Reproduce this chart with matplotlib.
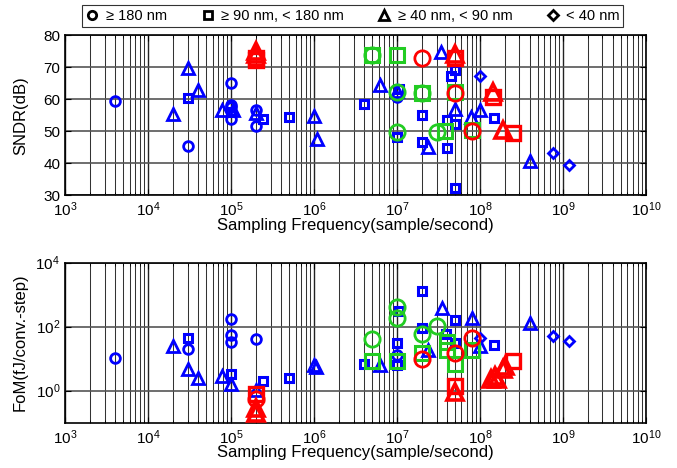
import matplotlib
matplotlib.use("Agg")
import matplotlib.pyplot as plt
from matplotlib.lines import Line2D
from matplotlib.ticker import FixedLocator, NullFormatter, LogFormatterMathtext

plt.rcParams['font.family'] = ['Liberation Sans', 'DejaVu Sans']
plt.rcParams['mathtext.fontset'] = 'custom'
plt.rcParams['mathtext.rm'] = 'Liberation Sans'
plt.rcParams['mathtext.it'] = 'Liberation Sans'

# ---------------- data: SNDR panel ----------------
sndr_blue_circle_f = [4e3, 3e4, 1e5, 1e5, 1e5, 1e5, 2e5, 2e5, 1e7]
sndr_blue_circle_v = [59.3, 45.2, 65.1, 58.3, 57.5, 53.8, 56.6, 51.7, 60.7]
sndr_blue_square_f = [3e4, 1e5, 2.45e5, 5e5, 4e6, 1.05e7, 1e7, 2e7, 2e7, 4e7, 4e7, 4.5e7, 5e7, 5e7, 5e7, 1.47e8]
sndr_blue_square_v = [60.3, 56.0, 53.8, 54.4, 58.5, 63.3, 48.2, 55.0, 46.5, 53.6, 44.6, 67.2, 69.1, 52.1, 32.1, 54.2]
sndr_blue_tri_f = [2e4, 3e4, 4e4, 7.7e4, 1.05e5, 2e5, 1e6, 1.1e6, 6.3e6, 1e7, 2.4e7, 3.4e7, 5e7, 7.9e7, 1e8, 4e8]
sndr_blue_tri_v = [55.2, 69.8, 62.8, 56.6, 56.5, 55.6, 54.7, 47.5, 64.4, 62.5, 44.9, 74.8, 57.0, 54.5, 56.6, 40.6]
sndr_blue_dia_f = [1e8, 7.5e8, 1.2e9]
sndr_blue_dia_v = [67.2, 43.3, 39.4]
sndr_green_circle_f = [5e6, 1e7, 1e7, 2e7, 3e7]
sndr_green_circle_v = [73.75, 62.2, 49.8, 61.8, 49.8]
sndr_green_square_f = [5e6, 1e7, 2e7, 3.8e7, 5e7, 8e7]
sndr_green_square_v = [73.75, 73.75, 61.8, 50.0, 62.3, 50.3]
sndr_red_circle_f = [2e7, 5e7, 8e7]
sndr_red_circle_v = [73.0, 61.8, 50.0]
sndr_red_square_f = [2e5, 2e5, 5e7, 1.45e8, 2.5e8]
sndr_red_square_v = [73.0, 72.2, 73.0, 60.8, 49.5]
sndr_red_tri_f = [2e5, 2e5, 5e7, 1.45e8, 1.9e8]
sndr_red_tri_v = [75.0, 74.2, 74.0, 62.3, 50.3]

# ---------------- data: FoM panel ----------------
fom_blue_circle_f = [4e3, 3e4, 1e5, 1e5, 1e5, 2e5, 1e7]
fom_blue_circle_v = [10.5, 20, 175, 56, 32, 40, 13]
fom_blue_square_f = [3e4, 1e5, 2.45e5, 5e5, 4e6, 1.05e7, 1e7, 1e7, 2e7, 2e7, 3.9e7, 5e7, 5e7, 1.47e8]
fom_blue_square_v = [44, 3.4, 2.06, 2.5, 6.8, 300, 31, 6.5, 1330, 91, 58, 155, 31, 25.7]
fom_blue_tri_f = [2e4, 3e4, 4e4, 7.7e4, 1e5, 2e5, 1e6, 1.05e6, 6.3e6, 2.4e7, 3.5e7, 8e7, 1e8, 4e8]
fom_blue_tri_v = [24.6, 4.8, 2.5, 2.8, 1.6, 1.07, 6.3, 5.5, 6.2, 19, 390, 185, 24.5, 132]
fom_blue_dia_f = [1e8, 7.5e8, 1.2e9]
fom_blue_dia_v = [44, 52, 35]
fom_green_circle_f = [5e6, 1e7, 1e7, 2e7, 3e7]
fom_green_circle_v = [42, 400, 185, 59, 103]
fom_green_square_f = [5e6, 1e7, 2e7, 4e7, 4e7, 5e7, 8e7]
fom_green_square_v = [8.7, 8.3, 15, 33, 19, 6.8, 19]
fom_red_circle_f = [2e5, 2e7, 5e7, 8e7]
fom_red_circle_v = [0.55, 10, 15, 44]
fom_red_square_f = [2e5, 5e7, 2.5e8]
fom_red_square_v = [0.8, 1.35, 8.3]
fom_red_tri_f = [2e5, 2e5, 5e7, 1.35e8, 1.5e8, 1.6e8, 1.9e8, 2e8]
fom_red_tri_v = [0.29, 0.2, 0.9, 2.3, 2.8, 2.3, 4.6, 5.8]

x_ticks = [1e3, 1e4, 1e5, 1e6, 1e7, 1e8, 1e9, 1e10]
sndr_ticks = [30, 40, 50, 60, 70, 80]
fom_ticks = [1e0, 1e2, 1e4]
legend_labels = ['\u2265 180 nm', '\u2265 90 nm, < 180 nm', '\u2265 40 nm, < 90 nm', '< 40 nm']
xlabel = 'Sampling Frequency(sample/second)'

BLUE = '#0000ff'
GREEN = '#22cc22'
RED = '#ff0000'

styles = {
    'blue_circle': dict(marker='o', color=BLUE, ms=7, mew=2.0),
    'blue_square': dict(marker='s', color=BLUE, ms=6, mew=2.2),
    'blue_tri': dict(marker='^', color=BLUE, ms=8, mew=2.0),
    'blue_dia': dict(marker='D', color=BLUE, ms=5.5, mew=2.0),
    'green_circle': dict(marker='o', color=GREEN, ms=11, mew=2.0),
    'green_square': dict(marker='s', color=GREEN, ms=9.5, mew=2.2),
    'red_circle': dict(marker='o', color=RED, ms=11, mew=2.0),
    'red_square': dict(marker='s', color=RED, ms=9.5, mew=2.4),
    'red_tri': dict(marker='^', color=RED, ms=12, mew=2.6),
}

fig = plt.figure(figsize=(6.77, 4.68), dpi=100)
ax1 = fig.add_axes([0.096, 0.583, 0.858, 0.342])
ax2 = fig.add_axes([0.096, 0.097, 0.858, 0.342])


def draw(ax, groups):
    for key, f, v in groups:
        st = styles[key]
        ax.plot(f, v, linestyle='none', marker=st['marker'], markersize=st['ms'],
                markeredgewidth=st['mew'], markeredgecolor=st['color'],
                markerfacecolor='none', zorder=3)


draw(ax1, [
    ('blue_circle', sndr_blue_circle_f, sndr_blue_circle_v),
    ('blue_square', sndr_blue_square_f, sndr_blue_square_v),
    ('blue_tri', sndr_blue_tri_f, sndr_blue_tri_v),
    ('blue_dia', sndr_blue_dia_f, sndr_blue_dia_v),
    ('green_circle', sndr_green_circle_f, sndr_green_circle_v),
    ('green_square', sndr_green_square_f, sndr_green_square_v),
    ('red_circle', sndr_red_circle_f, sndr_red_circle_v),
    ('red_square', sndr_red_square_f, sndr_red_square_v),
    ('red_tri', sndr_red_tri_f, sndr_red_tri_v),
])
draw(ax2, [
    ('blue_circle', fom_blue_circle_f, fom_blue_circle_v),
    ('blue_square', fom_blue_square_f, fom_blue_square_v),
    ('blue_tri', fom_blue_tri_f, fom_blue_tri_v),
    ('blue_dia', fom_blue_dia_f, fom_blue_dia_v),
    ('green_circle', fom_green_circle_f, fom_green_circle_v),
    ('green_square', fom_green_square_f, fom_green_square_v),
    ('red_circle', fom_red_circle_f, fom_red_circle_v),
    ('red_square', fom_red_square_f, fom_red_square_v),
    ('red_tri', fom_red_tri_f, fom_red_tri_v),
])

minor_x = [m * 10.0 ** e for e in range(3, 10) for m in range(2, 10)]

for ax in (ax1, ax2):
    ax.set_xscale('log')
    ax.set_xlim(1e3, 1e10)
    ax.xaxis.set_major_locator(FixedLocator(x_ticks))
    ax.xaxis.set_major_formatter(LogFormatterMathtext())
    ax.xaxis.set_minor_locator(FixedLocator(minor_x))
    ax.xaxis.set_minor_formatter(NullFormatter())
    ax.grid(True, which='major', axis='x', color='#222222', lw=1.0, zorder=1)
    ax.grid(True, which='minor', axis='x', color='#333333', lw=0.75, zorder=1)
    ax.grid(True, which='major', axis='y', color='#555555', lw=1.2, zorder=1)
    ax.tick_params(which='both', direction='in', top=True, right=True, labelsize=11)
    ax.tick_params(which='major', length=4, width=0.8)
    ax.tick_params(axis='x', which='major', pad=4)
    ax.tick_params(which='minor', length=2, width=0.6)
    for s in ax.spines.values():
        s.set_linewidth(1.2)
        s.set_color('black')
    ax.set_xlabel(xlabel, fontsize=12, labelpad=-1)
    ax.set_axisbelow(True)

ax1.set_ylim(30, 80)
ax1.yaxis.set_major_locator(FixedLocator(sndr_ticks))
ax1.set_ylabel('SNDR(dB)', fontsize=12)
ax1.yaxis.set_label_coords(-0.064, 0.5)

ax2.set_yscale('log')
ax2.set_ylim(1e-1, 1e4)
ax2.yaxis.set_major_locator(FixedLocator(fom_ticks))
ax2.yaxis.set_major_formatter(LogFormatterMathtext())
ax2.yaxis.set_minor_locator(FixedLocator([]))
ax2.set_ylabel('FoM(fJ/conv.-step)', fontsize=12)
ax2.yaxis.set_label_coords(-0.064, 0.5)

handles = [Line2D([], [], linestyle='none', marker=m, markersize=ms, markeredgewidth=2,
                  markeredgecolor='black', markerfacecolor='none')
           for m, ms in [('o', 6), ('s', 5.5), ('^', 6.5), ('D', 5.5)]]
leg = fig.legend(handles, legend_labels, loc='center', bbox_to_anchor=(0.5207, 0.966),
                 ncol=4, frameon=True, fancybox=False, fontsize=10.5, handlelength=1.0,
                 handletextpad=0.4, columnspacing=2.3, borderpad=0.25, borderaxespad=0)
leg.get_frame().set_edgecolor('black')
leg.get_frame().set_linewidth(0.8)

fig.savefig('out.png', dpi=100)
